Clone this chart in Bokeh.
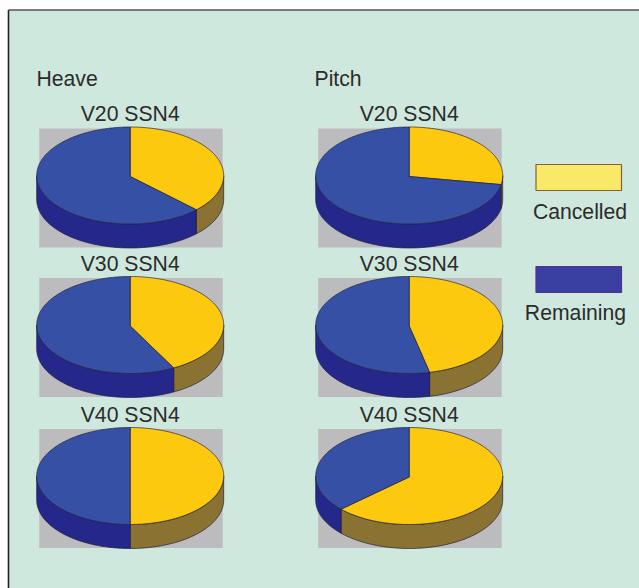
import numpy as np
from bokeh.core.properties import value
from bokeh.embed import file_html
from bokeh.models import Range1d
from bokeh.plotting import figure
from bokeh.resources import INLINE

# Share of each response (percent)
speed_labels = ["V20 SSN4", "V30 SSN4", "V40 SSN4"]
heave_cancelled = [37.5, 42.3, 50]
pitch_cancelled = [28, 46.5, 63]
column_labels = ["Heave", "Pitch"]
legend_labels = ["Cancelled", "Remaining"]

W, H = 639, 588
FONT = value("Liberation Sans")
FONT_SIZE = "21.2px"
INK = "#2b2b2b"
TOP = {"Cancelled": "#fdc90e", "Remaining": "#3650a6"}
WALL = {"Cancelled": "#8a7232", "Remaining": "#25288a"}
LEGEND_FILL = {"Cancelled": "#f8ea68", "Remaining": "#3a40a2"}
LEGEND_EDGE = {"Cancelled": "#8a5c3c", "Remaining": "#55308c"}

COL_X = [129.7, 408.7]
ROW_Y = [175, 324.5, 475.5]
RX, RY, DEPTH = 93.5, 48.5, 24

p = figure(width=W, height=H, output_backend="svg", toolbar_location=None,
           x_range=Range1d(0, W), y_range=Range1d(H, 0),
           min_border=0, border_fill_color="white", outline_line_color=None)
p.axis.visible = False
p.grid.visible = False
p.background_fill_color = "white"

# Panel with its dark top and left rules
p.quad(left=[8], right=[W], top=[9.5], bottom=[H], fill_color="#cfe8de", line_color=None)
p.segment(x0=[8], y0=[9.5], x1=[W], y1=[9.5], line_color="#555555", line_width=1.6)
p.segment(x0=[8], y0=[9.5], x1=[8], y1=[H], line_color="#222222", line_width=1.6)


def ellipse_arc(cx, cy, start, stop):
    """Points on a flattened circle; angles run clockwise from 12 o'clock, in degrees."""
    n = max(2, int(abs(stop - start)) + 1)
    t = np.radians(np.linspace(start, stop, n))
    return cx + RX * np.sin(t), cy - RY * np.cos(t)


def draw_pie(cx, cy, cancelled, title):
    p.quad(left=[cx - 91], right=[cx + 92.5], top=[cy - 47], bottom=[cy + 72],
           fill_color="#bcbcbf", line_color=None)
    split = cancelled / 100 * 360
    slices = [("Cancelled", 0.0, split), ("Remaining", split, 360.0)]

    # Outer wall: only the front half of the rim is visible
    for name, a0, a1 in slices:
        lo, hi = max(a0, 90.0), min(a1, 270.0)
        if hi <= lo:
            continue
        ax, ay = ellipse_arc(cx, cy, lo, hi)
        p.patch(np.r_[ax, ax[::-1]], np.r_[ay, ay[::-1] + DEPTH],
                fill_color=WALL[name], line_color="#1c1c3c", line_width=0.7)

    # Top face
    for name, a0, a1 in slices:
        ax, ay = ellipse_arc(cx, cy, a0, a1)
        p.patch(np.r_[cx, ax], np.r_[cy + 1, ay],
                fill_color=TOP[name], line_color="#24243c", line_width=0.7)

    p.text(x=[cx], y=[cy - 62], text=[title], text_font=FONT, text_font_size=FONT_SIZE,
           text_align="center", text_baseline="middle", text_color=INK)


for cx, series in zip(COL_X, [heave_cancelled, pitch_cancelled]):
    for cy, share, title in zip(ROW_Y, series, speed_labels):
        draw_pie(cx, cy, share, title)

# Column headings
p.text(x=[36, 314], y=[78, 78], text=column_labels, text_font=FONT, text_font_size=FONT_SIZE,
       text_align="left", text_baseline="middle", text_color=INK)

# Legend
for name, top, text_x, text_y in zip(legend_labels, [164, 266], [579.5, 575], [211, 312]):
    p.quad(left=[535.5], right=[621], top=[top], bottom=[top + 26],
           fill_color=LEGEND_FILL[name], line_color=LEGEND_EDGE[name], line_width=1.2)
    p.text(x=[text_x], y=[text_y], text=[name], text_font=FONT, text_font_size=FONT_SIZE,
           text_align="center", text_baseline="middle", text_color=INK)

open("out.html", "w").write(file_html(p, INLINE))
